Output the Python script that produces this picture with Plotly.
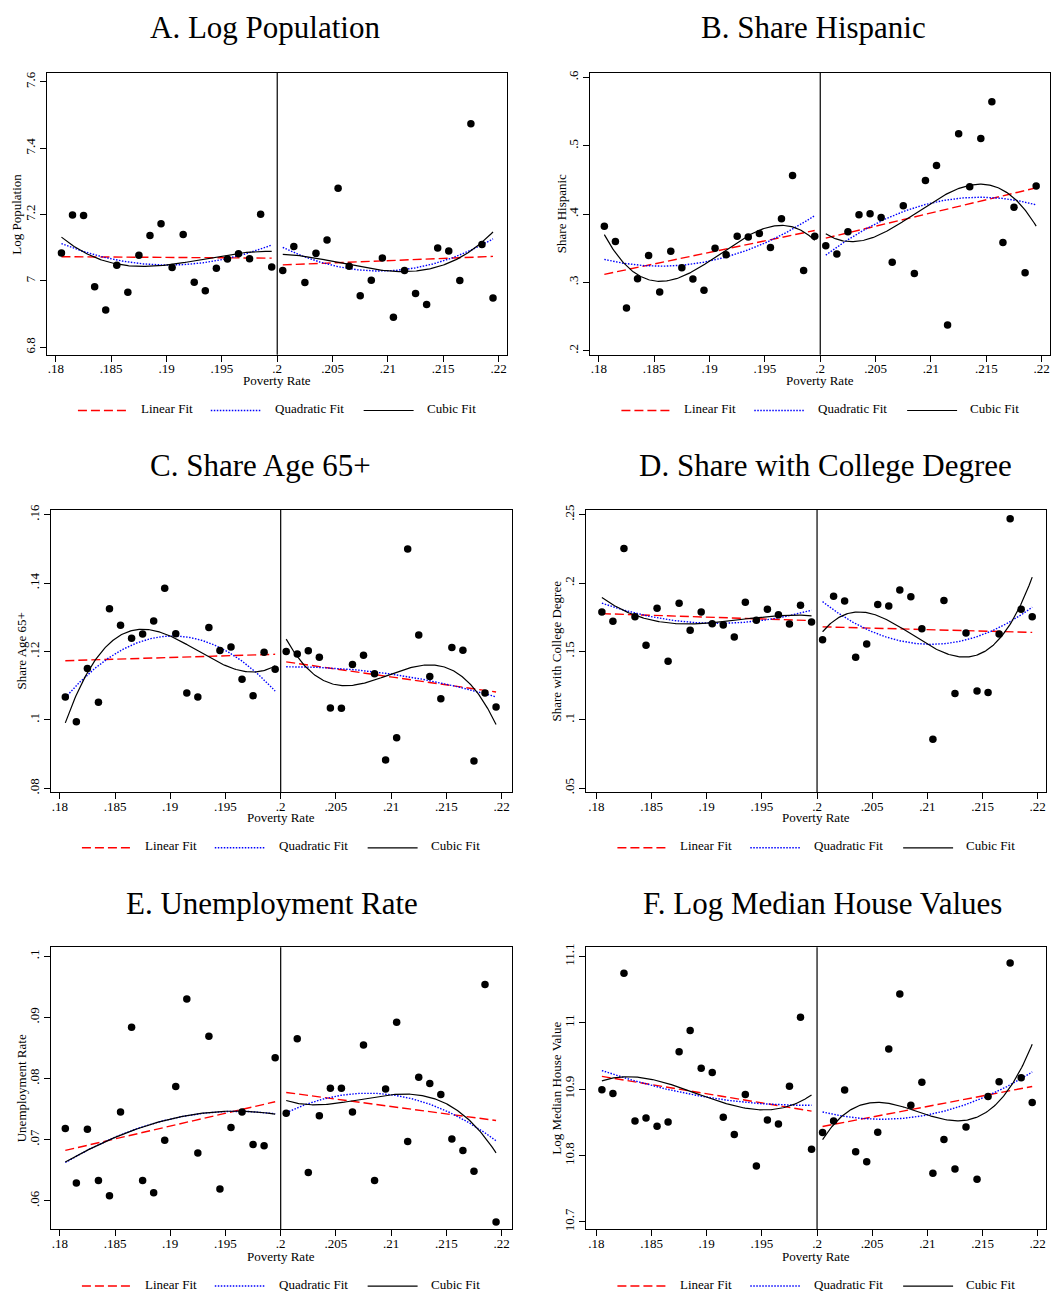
import numpy as np
import plotly.graph_objects as go

W, H = 1051, 1298
FONT = "Liberation Serif, Times New Roman, serif"
CUTOFF = 0.2

# bin centres (poverty rate)
x_left = [.1805, .1815, .1825, .1835, .1845, .1855, .1865, .1875, .1885, .1895,
          .1905, .1915, .1925, .1935, .1945, .1955, .1965, .1975, .1985, .1995]
x_right = [.2005, .2015, .2025, .2035, .2045, .2055, .2065, .2075, .2085, .2095,
           .2105, .2115, .2125, .2135, .2145, .2155, .2165, .2175, .2185, .2195]

x_tickvals = [.18, .185, .19, .195, .2, .205, .21, .215, .22]
x_ticktext = [".18", ".185", ".19", ".195", ".2", ".205", ".21", ".215", ".22"]

# A. Log Population
logpop_left = [7.084, 7.199, 7.197, 6.982, 6.912, 7.047, 6.966, 7.077, 7.137, 7.172,
               7.040, 7.140, 6.996, 6.970, 7.038, 7.066, 7.082, 7.067, 7.201, 7.042]
logpop_right = [7.031, 7.104, 6.995, 7.083, 7.123, 7.279, 7.044, 6.955, 7.002, 7.069,
                6.890, 7.031, 6.962, 6.929, 7.099, 7.090, 7.001, 7.474, 7.110, 6.948]
# B. Share Hispanic
hisp_left = [.382, .360, .2625, .3055, .3395, .286, .3455, .3215, .305, .2885,
             .350, .3405, .3675, .3665, .3715, .351, .393, .4565, .3175, .3675]
hisp_right = [.3535, .3415, .374, .399, .4005, .395, .3295, .412, .313, .449,
              .471, .2375, .5175, .440, .5105, .5645, .3585, .410, .314, .441]
# C. Share Age 65+
age65_left = [.1067, .0995, .1150, .1052, .1325, .1277, .1239, .1251, .1289, .1385,
              .1252, .1079, .1067, .1270, .1203, .1213, .1119, .1071, .1198, .1148]
age65_right = [.1200, .1193, .1202, .1183, .1035, .1034, .1162, .1189, .1135, .0883,
               .0948, .1500, .1248, .1127, .1062, .1212, .1204, .0880, .1079, .1038]
# D. Share with College Degree
college_left = [.1788, .1720, .2253, .1753, .1545, .1815, .1428, .1853, .1655, .1788,
                .1703, .1693, .1605, .1860, .1728, .1808, .1768, .1700, .1838, .1715]
college_right = [.1585, .1903, .1868, .1458, .1555, .1843, .1833, .1950, .1900, .1665,
                 .0858, .1873, .1193, .1635, .1210, .1200, .1628, .2470, .1808, .1753]
# E. Unemployment Rate
unemp_left = [.0718, .0629, .0717, .0633, .0608, .0745, .0884, .0633, .0613, .0699,
              .0787, .0930, .0678, .0869, .0619, .0720, .0745, .0692, .0690, .0834]
unemp_right = [.0743, .0865, .0646, .0739, .0784, .0784, .0745, .0855, .0633, .0783,
               .0892, .0697, .0802, .0792, .0774, .0701, .0682, .0648, .0954, .0565]
# F. Log Median House Values
house_left = [10.899, 10.8935, 11.0745, 10.852, 10.8565, 10.844, 10.8505, 10.9565, 10.9885, 10.9315,
              10.925, 10.8575, 10.8315, 10.892, 10.784, 10.8535, 10.8475, 10.9045, 11.0085, 10.8095]
house_right = [10.8345, 10.852, 10.8985, 10.8055, 10.7905, 10.835, 10.9605, 11.0435, 10.8755, 10.9105,
               10.773, 10.824, 10.7795, 10.843, 10.764, 10.889, 10.911, 11.090, 10.917, 10.880]

panels = [
    dict(title="A. Log Population", ytitle="Log Population", left=logpop_left, right=logpop_right,
         yticks=[6.8, 7, 7.2, 7.4, 7.6], ytext=["6.8", "7", "7.2", "7.4", "7.6"],
         xd=(47, 507), yd=(67, 351), xr=(.17919, .22072), yr=(6.777, 7.628),
         tx=265, ty=27, ytx=17, legL=78, legy=407, xly=380),
    dict(title="B. Share Hispanic", ytitle="Share Hispanic", left=hisp_left, right=hisp_right,
         yticks=[.2, .3, .4, .5, .6], ytext=[".2", ".3", ".4", ".5", ".6"],
         xd=(590.5, 1051), yd=(67, 351), xr=(.1792, .22075), yr=(.194, .607),
         tx=814, ty=27, ytx=562, legL=622, legy=407, xly=380),
    dict(title="C. Share Age 65+", ytitle="Share Age 65+", left=age65_left, right=age65_right,
         yticks=[.08, .10, .12, .14, .16], ytext=[".08", ".1", ".12", ".14", ".16"],
         xd=(51, 512), yd=(507, 791), xr=(.1792, .2209), yr=(.0789, .1614),
         tx=261, ty=467, ytx=21.5, legL=82, legy=847, xly=820),
    dict(title="D. Share with College Degree", ytitle="Share with College Degree", left=college_left, right=college_right,
         yticks=[.05, .1, .15, .2, .25], ytext=[".05", ".1", ".15", ".2", ".25"],
         xd=(587, 1047), yd=(507, 791), xr=(.1791, .22075), yr=(.0471, .2535),
         tx=826, ty=467, ytx=557, legL=618, legy=847, xly=820),
    dict(title="E. Unemployment Rate", ytitle="Unemployment Rate", left=unemp_left, right=unemp_right,
         yticks=[.06, .07, .08, .09, .1], ytext=[".06", ".07", ".08", ".09", ".1"],
         xd=(51, 512), yd=(947, 1231), xr=(.1792, .2209), yr=(.0553, .1015),
         tx=272, ty=908, ytx=21, legL=82, legy=1288, xly=1261),
    dict(title="F. Log Median House Values", ytitle="Log Median House Value", left=house_left, right=house_right,
         yticks=[10.7, 10.8, 10.9, 11.0, 11.1], ytext=["10.7", "10.8", "10.9", "11", "11.1"],
         xd=(587, 1047), yd=(947, 1231), xr=(.1791, .22075), yr=(10.6885, 11.114),
         tx=823, ty=908, ytx=557, legL=618, legy=1288, xly=1261),
]

FIT_STYLES = [
    (1, "Linear Fit", dict(color="#ff0000", width=1.4, dash="9px,4px")),
    (2, "Quadratic Fit", dict(color="#0000ff", width=1.4, dash="1.5px,1.5px")),
    (3, "Cubic Fit", dict(color="#000000", width=1.2, dash="solid")),
]

fig = go.Figure()
layout = dict(width=W, height=H, margin=dict(l=0, r=0, t=0, b=0),
              paper_bgcolor="white", plot_bgcolor="white", showlegend=False,
              font=dict(family=FONT, color="black"))
annotations, shapes = [], []

def px(x):
    return x / W

def py(y):
    return 1 - y / H

for i, p in enumerate(panels, start=1):
    xa = "x" if i == 1 else f"x{i}"
    ya = "y" if i == 1 else f"y{i}"
    for xs, ys in ((x_left, p["left"]), (x_right, p["right"])):
        xs_a = np.array(xs)
        ys_a = np.array(ys)
        grid = np.linspace(xs_a[0], xs_a[-1], 200)
        for deg, name, line in FIT_STYLES:
            poly = np.polynomial.Polynomial.fit(xs_a, ys_a, deg)
            fig.add_trace(go.Scatter(x=grid, y=poly(grid), mode="lines", line=line,
                                     xaxis=xa, yaxis=ya, hoverinfo="skip"))
        fig.add_trace(go.Scatter(x=xs, y=ys, mode="markers",
                                 marker=dict(color="black", size=7.5),
                                 xaxis=xa, yaxis=ya))
    axis_common = dict(showline=True, mirror=True, linecolor="black", linewidth=1,
                       ticks="outside", ticklen=6, tickwidth=1, tickcolor="black",
                       showgrid=False, zeroline=False,
                       tickfont=dict(family=FONT, size=13, color="black"))
    layout["xaxis" if i == 1 else f"xaxis{i}"] = dict(
        axis_common, domain=[px(p["xd"][0]), min(1, px(p["xd"][1]))],
        anchor=ya, range=list(p["xr"]), tickvals=x_tickvals, ticktext=x_ticktext,
        ticklabelstandoff=-4)
    layout["yaxis" if i == 1 else f"yaxis{i}"] = dict(
        axis_common, domain=[py(p["yd"][1]), py(p["yd"][0])],
        anchor=xa, range=list(p["yr"]), tickvals=p["yticks"], ticktext=p["ytext"],
        tickangle=-90)
    # cutoff line
    shapes.append(dict(type="line", xref=xa, yref=f"{ya} domain", x0=CUTOFF, x1=CUTOFF,
                       y0=0, y1=1, line=dict(color="black", width=1.2)))
    # titles
    annotations.append(dict(text=p["title"], x=px(p["tx"]), y=py(p["ty"] - 5), xref="paper", yref="paper",
                            xanchor="center", yanchor="middle", showarrow=False,
                            font=dict(family=FONT, size=31, color="black")))
    annotations.append(dict(text=p["ytitle"], x=px(p["ytx"]), y=py((p["yd"][0] + p["yd"][1]) / 2),
                            xref="paper", yref="paper", xanchor="center", yanchor="middle",
                            textangle=-90, showarrow=False,
                            font=dict(family=FONT, size=13, color="black")))
    annotations.append(dict(text="Poverty Rate", x=px((p["xd"][0] + p["xd"][1]) / 2), y=py(p["xly"] - 3),
                            xref="paper", yref="paper", xanchor="center", yanchor="middle",
                            showarrow=False, font=dict(family=FONT, size=13, color="black")))
    # legend
    L = p["legL"]
    for (deg, name, line), (ls, le, ts) in zip(FIT_STYLES, [(0, 51, 61), (133, 184, 195), (286, 336, 347)]):
        shapes.append(dict(type="line", xref="paper", yref="paper",
                           x0=px(L + ls), x1=px(L + le), y0=py(p["legy"]), y1=py(p["legy"]),
                           line=line))
        annotations.append(dict(text=name, x=px(L + ts), y=py(p["legy"] - 2), xref="paper", yref="paper",
                                xanchor="left", yanchor="middle", showarrow=False,
                                font=dict(family=FONT, size=13, color="black")))

layout["annotations"] = annotations
layout["shapes"] = shapes
fig.update_layout(**layout)
fig.write_html("out.html")
